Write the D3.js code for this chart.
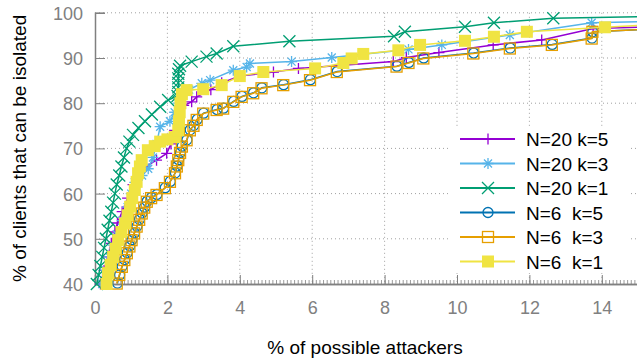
<!DOCTYPE html>
<html>
<head>
<meta charset="utf-8">
<script src="https://cdn.jsdelivr.net/npm/d3@7"></script>
<style>
  body { margin: 0; background: #fff; }
  svg text { font-family: "Liberation Sans", Arial, Helvetica, sans-serif; }
</style>
</head>
<body>
<div class="chart"></div>
<script>
// series values: [x % of attackers, y % of clients]
const n20k5 = [[0.15,40],[0.25,43],[0.35,46],[0.45,49],[0.55,51.5],[0.62,53.5],[0.75,56],[0.9,59],[1.05,62],[1.2,64],[1.4,66],[1.7,67.4],[1.98,68.9],[2.1,71],[2.2,74],[2.3,77],[2.45,79.5],[2.67,80.3],[2.81,81.4],[3.2,83],[3.5,84.5],[4.0,86],[4.93,86.9],[5.62,87.7],[8.24,89.2],[8.6,90.1],[9.5,91.2],[11.0,92.9],[12.34,94.0],[13.76,96.5],[15.6,97.0]]
const n20k3 = [[0.2,40],[0.3,43],[0.4,46],[0.5,48.6],[0.6,51],[0.75,54],[0.9,57],[1.0,60],[1.1,62.5],[1.3,64],[1.47,65.5],[1.6,68],[1.7,71],[1.8,74.8],[2.07,76],[2.2,78],[2.3,80],[2.4,82],[2.6,83],[2.95,84.4],[3.18,85.1],[3.82,87.3],[4.19,88.0],[4.28,88.8],[5.43,89.2],[6.54,90.1],[8.66,91.9],[9.58,92.9],[11.46,95.1],[13.72,97.8],[15.6,98.1]]
const n20k1 = [[0.05,40],[0.1,42],[0.15,44],[0.2,46],[0.25,48],[0.3,50],[0.35,52],[0.4,54],[0.45,56],[0.5,58],[0.55,60],[0.6,62],[0.67,64],[0.73,66],[0.8,68],[0.87,70],[0.95,71.5],[1.05,73],[1.2,74.5],[1.38,76],[1.57,77.5],[1.8,79.2],[2.02,80.7],[2.28,81.6],[2.3,82.5],[2.3,83.5],[2.3,84.5],[2.3,85.5],[2.3,86.5],[2.32,87.5],[2.35,88.3],[2.67,89.2],[3.08,90.3],[3.36,91.0],[3.82,92.6],[5.37,93.7],[8.26,94.8],[8.56,95.8],[10.22,96.9],[11.02,97.8],[12.66,98.8],[15.6,99.2]]
const n6k5 = [[0.62,40.2],[0.68,42],[0.75,43.9],[0.82,45.4],[0.89,46.9],[0.96,48.4],[1.02,49.8],[1.09,51.3],[1.16,52.8],[1.23,54.3],[1.3,55.7],[1.37,57],[1.44,58.3],[1.56,59.1],[1.71,59.8],[1.94,61.3],[2.08,62.7],[2.22,64.6],[2.27,66.1],[2.31,67.5],[2.36,69.1],[2.41,70.5],[2.54,71.9],[2.63,74.1],[2.73,75.1],[2.82,76.4],[3.0,77.8],[3.37,78.6],[3.55,78.9],[3.83,80.4],[4.06,81.5],[4.38,82.3],[4.61,83.4],[5.21,84.1],[5.95,85.2],[6.69,87.0],[8.34,88.2],[8.67,89.0],[9.08,90.0],[10.46,91.1],[11.47,92.2],[12.63,93.0],[13.73,94.4],[13.75,95.8],[15.6,96.5]]
const n6k3 = [[0.6,40.1],[0.67,42],[0.74,43.8],[0.81,45.3],[0.88,46.8],[0.95,48.3],[1.01,49.7],[1.08,51.2],[1.15,52.7],[1.22,54.2],[1.29,55.6],[1.36,56.9],[1.43,58.2],[1.55,59],[1.7,59.7],[1.93,61.2],[2.07,62.6],[2.21,64.5],[2.26,66],[2.3,67.4],[2.35,69],[2.4,70.4],[2.53,71.8],[2.62,74],[2.72,75],[2.81,76.3],[2.99,77.7],[3.36,78.5],[3.54,78.8],[3.82,80.3],[4.05,81.4],[4.37,82.2],[4.6,83.3],[5.2,84.0],[5.94,85.1],[6.68,86.9],[8.33,88.1],[8.66,88.9],[9.07,89.9],[10.45,91.0],[11.46,92.1],[12.62,92.9],[13.72,94.3],[13.74,95.8],[15.6,96.5]]
const n6k1 = [[0.32,40],[0.36,42.4],[0.43,44.2],[0.5,46],[0.57,47.8],[0.64,49.7],[0.73,51.5],[0.83,53.4],[0.9,55.2],[0.97,57.1],[1.03,59],[1.1,60.8],[1.15,62.6],[1.19,64.5],[1.24,66],[1.29,67.4],[1.46,69.6],[1.65,70.5],[1.8,71.5],[2.0,72],[2.2,72.5],[2.3,74],[2.32,76],[2.34,78],[2.36,80],[2.4,82],[2.53,82.9],[2.99,83.1],[3.5,84.0],[4.0,86.0],[4.65,86.9],[6.08,87.7],[6.86,88.9],[7.09,89.9],[7.41,90.9],[8.38,91.7],[8.98,92.9],[10.22,93.8],[11.02,94.7],[11.93,95.8],[14.09,96.8],[15.6,97.5]]

const seriesNames = ['N=20 k=5', 'N=20 k=3', 'N=20 k=1', 'N=6  k=5', 'N=6  k=3', 'N=6  k=1']
const xTicks = [0, 2, 4, 6, 8, 10, 12, 14]
const yTicks = [40, 50, 60, 70, 80, 90, 100]

const series = [
    {name: seriesNames[0], data: n20k5, color: '#9400d3', mark: 'plus'},
    {name: seriesNames[1], data: n20k3, color: '#56b4e9', mark: 'star'},
    {name: seriesNames[2], data: n20k1, color: '#009e73', mark: 'cross'},
    {name: seriesNames[3], data: n6k5, color: '#0072b2', mark: 'circle'},
    {name: seriesNames[4], data: n6k3, color: '#e69f00', mark: 'square'},
    {name: seriesNames[5], data: n6k1, color: '#f0e442', mark: 'fsquare'}
]

const svgWidth = 637
const svgHeight = 358
const plot = {left: 95, right: 638, top: 12.8, bottom: 284}

const x = d3.scaleLinear().domain([0, 15]).range([plot.left, plot.right])
const y = d3.scaleLinear().domain([40, 100]).range([plot.bottom, plot.top])

const svg = d3.select('.chart')
    .append('svg')
    .attr('width', svgWidth)
    .attr('height', svgHeight)

svg.append('defs').append('clipPath')
    .attr('id', 'clip')
    .append('rect')
    .attr('x', plot.left)
    .attr('y', plot.top)
    .attr('width', plot.right - plot.left)
    .attr('height', plot.bottom - plot.top)

// dotted grid
const grid = svg.append('g').attr('class', 'grid')
grid.selectAll('.vgrid')
    .data(xTicks.filter(d => d > 0))
    .join('line')
    .attr('x1', d => x(d)).attr('x2', d => x(d))
    .attr('y1', plot.top).attr('y2', plot.bottom)
grid.selectAll('.hgrid')
    .data(yTicks.filter(d => d > 40))
    .join('line')
    .attr('x1', plot.left).attr('x2', plot.right)
    .attr('y1', d => y(d)).attr('y2', d => y(d))
grid.selectAll('line')
    .attr('stroke', '#a0a0a0')
    .attr('stroke-width', 1)
    .attr('stroke-dasharray', '1,3')

// axes
const xAxis = svg.append('g')
    .attr('transform', `translate(0,${plot.bottom})`)
    .call(d3.axisBottom(x).tickValues(xTicks).tickSize(-9).tickPadding(17))
const xMinor = svg.append('g')
    .attr('transform', `translate(0,${plot.bottom})`)
    .call(d3.axisBottom(x).tickValues(d3.range(0, 150).map(d => d / 10)).tickSize(-4).tickFormat(''))
const yAxis = svg.append('g')
    .attr('transform', `translate(${plot.left},0)`)
    .call(d3.axisLeft(y).tickValues(yTicks).tickSize(-10).tickPadding(12))

;[xAxis, xMinor, yAxis].forEach(a => {
    a.select('.domain').attr('stroke', '#808080').attr('stroke-width', 1.5)
    a.selectAll('.tick line').attr('stroke', '#808080').attr('stroke-width', 1)
    a.selectAll('.tick text')
        .attr('fill', '#808080')
        .style('font-size', '18px')
        .style('font-family', '"Liberation Sans", Arial, sans-serif')
})
xMinor.selectAll('.tick line').attr('stroke-width', 0.8)
yAxis.selectAll('.tick text').attr('x', -12).attr('dy', '0.36em')

const symbol = (sel, mark, color) => {
    const s = 5.5
    if (mark === 'circle') {
        sel.append('circle').attr('r', 5).attr('fill', 'none').attr('stroke', color).attr('stroke-width', 1.3)
    } else if (mark === 'square') {
        sel.append('rect').attr('x', -5.5).attr('y', -5.5).attr('width', 11).attr('height', 11)
            .attr('fill', 'none').attr('stroke', color).attr('stroke-width', 1.3)
    } else if (mark === 'fsquare') {
        sel.append('rect').attr('x', -6).attr('y', -6).attr('width', 12).attr('height', 12)
            .attr('fill', color)
    } else {
        let p = ''
        if (mark === 'plus' || mark === 'star') p += `M${-s},0H${s}M0,${-s}V${s}`
        if (mark === 'cross') p += `M${-6},${-6}L6,6M${-6},6L6,${-6}`
        if (mark === 'star') p += `M${-4},${-4}L4,4M${-4},4L4,${-4}`
        sel.append('path').attr('d', p).attr('fill', 'none').attr('stroke', color).attr('stroke-width', 1.3)
    }
}

const line = d3.line().x(d => x(d[0])).y(d => y(d[1]))

series.forEach(s => {
    const g = svg.append('g').attr('class', 'series')
    g.append('path')
        .datum(s.data)
        .attr('clip-path', 'url(#clip)')
        .attr('fill', 'none')
        .attr('stroke', s.color)
        .attr('stroke-width', 1.5)
        .attr('d', line)
    g.selectAll('.pt')
        .data(s.data.filter(d => d[0] <= 15))
        .join('g')
        .attr('class', 'pt')
        .attr('transform', d => `translate(${x(d[0])},${y(d[1])})`)
        .each(function() { symbol(d3.select(this), s.mark, s.color) })
})

// key
const key = svg.append('g')
key.append('rect')
    .attr('x', 451).attr('y', 127).attr('width', 178).attr('height', 146)
    .attr('fill', '#fff')
series.forEach((s, i) => {
    const cy = 139 + i * 24.5
    const row = key.append('g')
    row.append('line')
        .attr('x1', 460).attr('x2', 515).attr('y1', cy).attr('y2', cy)
        .attr('stroke', s.color).attr('stroke-width', 1.8)
    const m = row.append('g').attr('transform', `translate(488,${cy})`)
    symbol(m, s.mark, s.color)
    row.append('text')
        .attr('x', 526).attr('y', cy + 7)
        .attr('xml:space', 'preserve')
        .style('white-space', 'pre')
        .style('font-size', '19px')
        .attr('fill', '#000')
        .text(s.name)
})

svg.append('text')
    .attr('x', 365).attr('y', 354)
    .attr('text-anchor', 'middle')
    .style('font-size', '19px')
    .text('% of possible attackers')

svg.append('text')
    .attr('transform', `translate(26,${(plot.top + plot.bottom) / 2}) rotate(-90)`)
    .attr('text-anchor', 'middle')
    .style('font-size', '19px')
    .text('% of clients that can be isolated')
</script>
</body>
</html>
